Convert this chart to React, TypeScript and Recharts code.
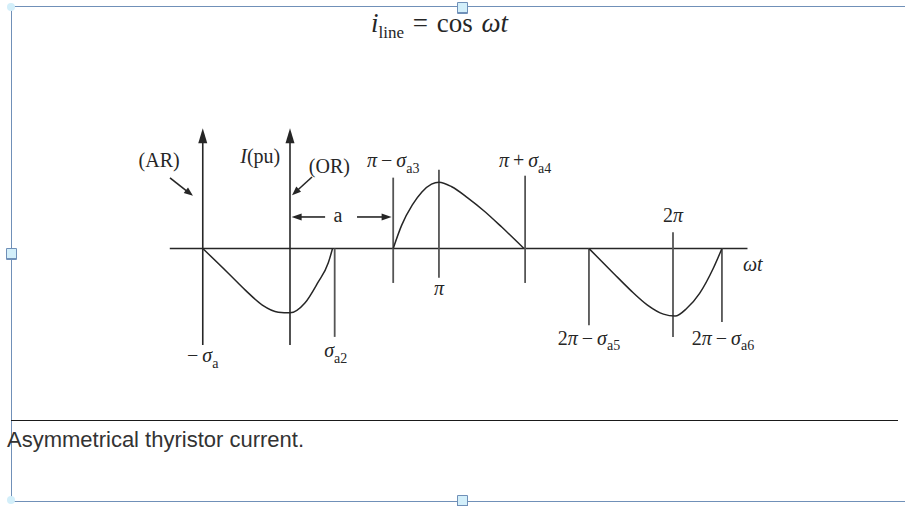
import React from "react";
import { ComposedChart, Line, XAxis, YAxis, ReferenceLine, ReferenceDot } from "recharts";

// ωt is laid out schematically in electrical degrees (not to scale), current in pu
const lobeReverse = [
  { x: -82, y: 0 }, { x: -58, y: -0.38 }, { x: -42, y: -0.64 }, { x: -26, y: -0.87 },
  { x: -11, y: -0.98 }, { x: 0, y: -0.99 }, { x: 14, y: -0.84 }, { x: 26, y: -0.53 },
  { x: 36, y: -0.22 }, { x: 40, y: 0 },
];
const lobeForward = [
  { x: 97, y: 0 }, { x: 105, y: 0.36 }, { x: 115, y: 0.67 }, { x: 124, y: 0.87 },
  { x: 133, y: 0.99 }, { x: 140, y: 1.02 }, { x: 152, y: 0.95 }, { x: 167, y: 0.78 },
  { x: 183, y: 0.57 }, { x: 199, y: 0.33 }, { x: 220, y: 0 },
];
const lobeReverse2 = [
  { x: 281, y: 0 }, { x: 304, y: -0.38 }, { x: 320, y: -0.64 }, { x: 336, y: -0.87 },
  { x: 351, y: -1.01 }, { x: 362, y: -1.04 }, { x: 373, y: -0.92 }, { x: 385, y: -0.69 },
  { x: 398, y: -0.3 }, { x: 406, y: 0 },
];

// angle marks: σa2, π−σa3, π, π+σa4, 2π−σa5, 2π, 2π−σa6
const markAngles = [42, 97, 140, 221, 281, 360, 406];
const markSpans = [[0, -1.36], [1.09, -0.53], [1.21, -0.45], [1.12, -0.53], [0, -1.18], [0.25, -1.36], [0, -1.13]];

const AR_ANGLE = -82;

type Part = { t: string; it?: boolean; sub?: boolean };
const rm = (t: string): Part => ({ t });
const it = (t: string): Part => ({ t, it: true });
const sub = (t: string): Part => ({ t, sub: true });
const TH = "\u2009";

const labels: { x: number; y: number; parts: Part[] }[] = [
  { x: -123, y: 1.25, parts: [rm("(AR)")] },
  { x: -28, y: 1.32, parts: [it("I"), rm("(pu)")] },
  { x: 37, y: 1.16, parts: [rm("(OR)")] },
  { x: 97, y: 1.25, parts: [it("π"), rm(TH + "−" + TH), it("σ"), sub("a3")] },
  { x: 221, y: 1.25, parts: [it("π"), rm(TH + "+" + TH), it("σ"), sub("a4")] },
  { x: 45, y: 0.41, parts: [rm("a")] },
  { x: 140, y: -0.72, parts: [it("π")] },
  { x: -82, y: -1.75, parts: [rm("−" + TH), it("σ"), sub("a")] },
  { x: 43, y: -1.67, parts: [it("σ"), sub("a2")] },
  { x: 360, y: 0.41, parts: [rm("2"), it("π")] },
  { x: 435, y: -0.35, parts: [it("ωt")] },
  { x: 281, y: -1.48, parts: [rm("2"), it("π"), rm(TH + "−" + TH), it("σ"), sub("a5")] },
  { x: 407, y: -1.48, parts: [rm("2"), it("π"), rm(TH + "−" + TH), it("σ"), sub("a6")] },
];

// arrows: [x1, y1, x2, y2, head length, half width]
const arrows = [
  [AR_ANGLE, -1.485, AR_ANGLE, 1.85, 15, 4.5],
  [0, -1.485, 0, 1.85, 15, 4.5],
  [-112.8, 1.085, -91.2, 0.81, 9, 3.5],
  [20.7, 1.1, 1.9, 0.82, 9, 3.5],
  [33, 0.485, 1.5, 0.485, 10, 3.5],
  [63, 0.485, 95.5, 0.485, 10, 3.5],
];

const INK = "#262626";
const SERIF = "'Liberation Serif', 'Times New Roman', serif";
const FRAME = "#7090b8";

function Arrow(props: any) {
  const { x1, y1, x2, y2, head, wing } = props;
  const dx = x2 - x1;
  const dy = y2 - y1;
  const len = Math.hypot(dx, dy) || 1;
  const ux = dx / len;
  const uy = dy / len;
  const bx = x2 - ux * head;
  const by = y2 - uy * head;
  const pts = `${x2},${y2} ${bx - uy * wing},${by + ux * wing} ${bx + uy * wing},${by - ux * wing}`;
  return (
    <g>
      <line x1={x1} y1={y1} x2={bx + ux * 2} y2={by + uy * 2} stroke={INK} strokeWidth={1.6} />
      <polygon points={pts} fill={INK} />
    </g>
  );
}

function MathLabel({ cx, cy, parts, size = 20 }: any) {
  let inSub = false;
  return (
    <text x={cx} y={cy} textAnchor="middle" fontFamily={SERIF} fontSize={size} fill={INK}>
      {parts.map((p: Part, i: number) => {
        let dy = 0;
        if (p.sub && !inSub) dy = size * 0.28;
        if (!p.sub && inSub) dy = -size * 0.28;
        inSub = !!p.sub;
        return (
          <tspan key={i} dy={dy} fontStyle={p.it ? "italic" : "normal"} fontSize={p.sub ? size * 0.7 : size}>
            {p.t}
          </tspan>
        );
      })}
    </text>
  );
}

const handle = (left: number, top: number): React.CSSProperties => ({
  position: "absolute",
  left,
  top,
  width: 9,
  height: 9,
  background: "#d3effa",
  border: `1px solid ${FRAME}`,
  borderBottomWidth: 2,
  borderRadius: 1,
});

export default function App() {
  return (
    <div style={{ position: "absolute", left: 0, top: 0, width: 905, height: 506, background: "#fff", overflow: "hidden" }}>
      {/* selection frame */}
      <div style={{ position: "absolute", left: 11, top: 6, width: 900, height: 494, borderLeft: `1.5px solid ${FRAME}`, borderTop: `1.5px solid ${FRAME}`, borderBottom: `1.5px solid ${FRAME}` }} />
      <div style={{ position: "absolute", left: 7, top: 3, width: 8, height: 8, borderRadius: 4, background: "#d3effa" }} />
      <div style={{ position: "absolute", left: 7, top: 496, width: 8, height: 8, borderRadius: 4, background: "#d3effa" }} />
      <div style={handle(457, 2)} />
      <div style={handle(457, 495)} />
      <div style={handle(6, 248)} />

      <div style={{ position: "absolute", left: 371, top: 10, fontFamily: SERIF, fontSize: 27, lineHeight: "27px", color: INK, whiteSpace: "nowrap", wordSpacing: 2 }}>
        <i>i</i>
        <span style={{ fontSize: 17, position: "relative", top: 6 }}>line</span>
        {" = cos "}
        <i>ωt</i>
      </div>

      <ComposedChart
        width={905}
        height={506}
        margin={{ top: 118.5, right: 40.5, bottom: 127.5, left: 98.5 }}
        style={{ position: "absolute", left: 0, top: 0 }}
      >
        <XAxis type="number" dataKey="x" domain={[-180, 540]} hide allowDataOverflow />
        <YAxis type="number" domain={[-2, 2]} hide allowDataOverflow />

        <ReferenceLine segment={[{ x: -113, y: 0 }, { x: 430, y: 0 }]} stroke={INK} strokeWidth={1.6} />

        {markAngles.map((a, i) => (
          <ReferenceLine
            key={`m${i}`}
            segment={[{ x: a, y: markSpans[i][0] }, { x: a, y: markSpans[i][1] }]}
            stroke="#555"
            strokeWidth={1.8}
          />
        ))}

        {arrows.map(([x1, y1, x2, y2, head, wing], i) => (
          <ReferenceLine
            key={`a${i}`}
            segment={[{ x: x1, y: y1 }, { x: x2, y: y2 }]}
            shape={(p: any) => <Arrow {...p} head={head} wing={wing} />}
          />
        ))}

        <Line data={lobeReverse} dataKey="y" type="monotone" stroke={INK} strokeWidth={1.5} dot={false} activeDot={false} isAnimationActive={false} />
        <Line data={lobeForward} dataKey="y" type="monotone" stroke={INK} strokeWidth={1.5} dot={false} activeDot={false} isAnimationActive={false} />
        <Line data={lobeReverse2} dataKey="y" type="monotone" stroke={INK} strokeWidth={1.5} dot={false} activeDot={false} isAnimationActive={false} />

        {labels.map((l, i) => (
          <ReferenceDot
            key={`l${i}`}
            x={l.x}
            y={l.y}
            r={0}
            shape={(p: any) => <MathLabel cx={p.cx} cy={p.cy} parts={l.parts} />}
          />
        ))}
      </ComposedChart>

      <div style={{ position: "absolute", left: 11, top: 420, width: 887, borderTop: "1.5px solid #1a1a1a" }} />
      <div style={{ position: "absolute", left: 7, top: 428.5, fontFamily: "'Liberation Sans', Arial, sans-serif", fontSize: 22, lineHeight: "22px", color: "#333", whiteSpace: "nowrap" }}>
        Asymmetrical thyristor current.
      </div>
    </div>
  );
}
